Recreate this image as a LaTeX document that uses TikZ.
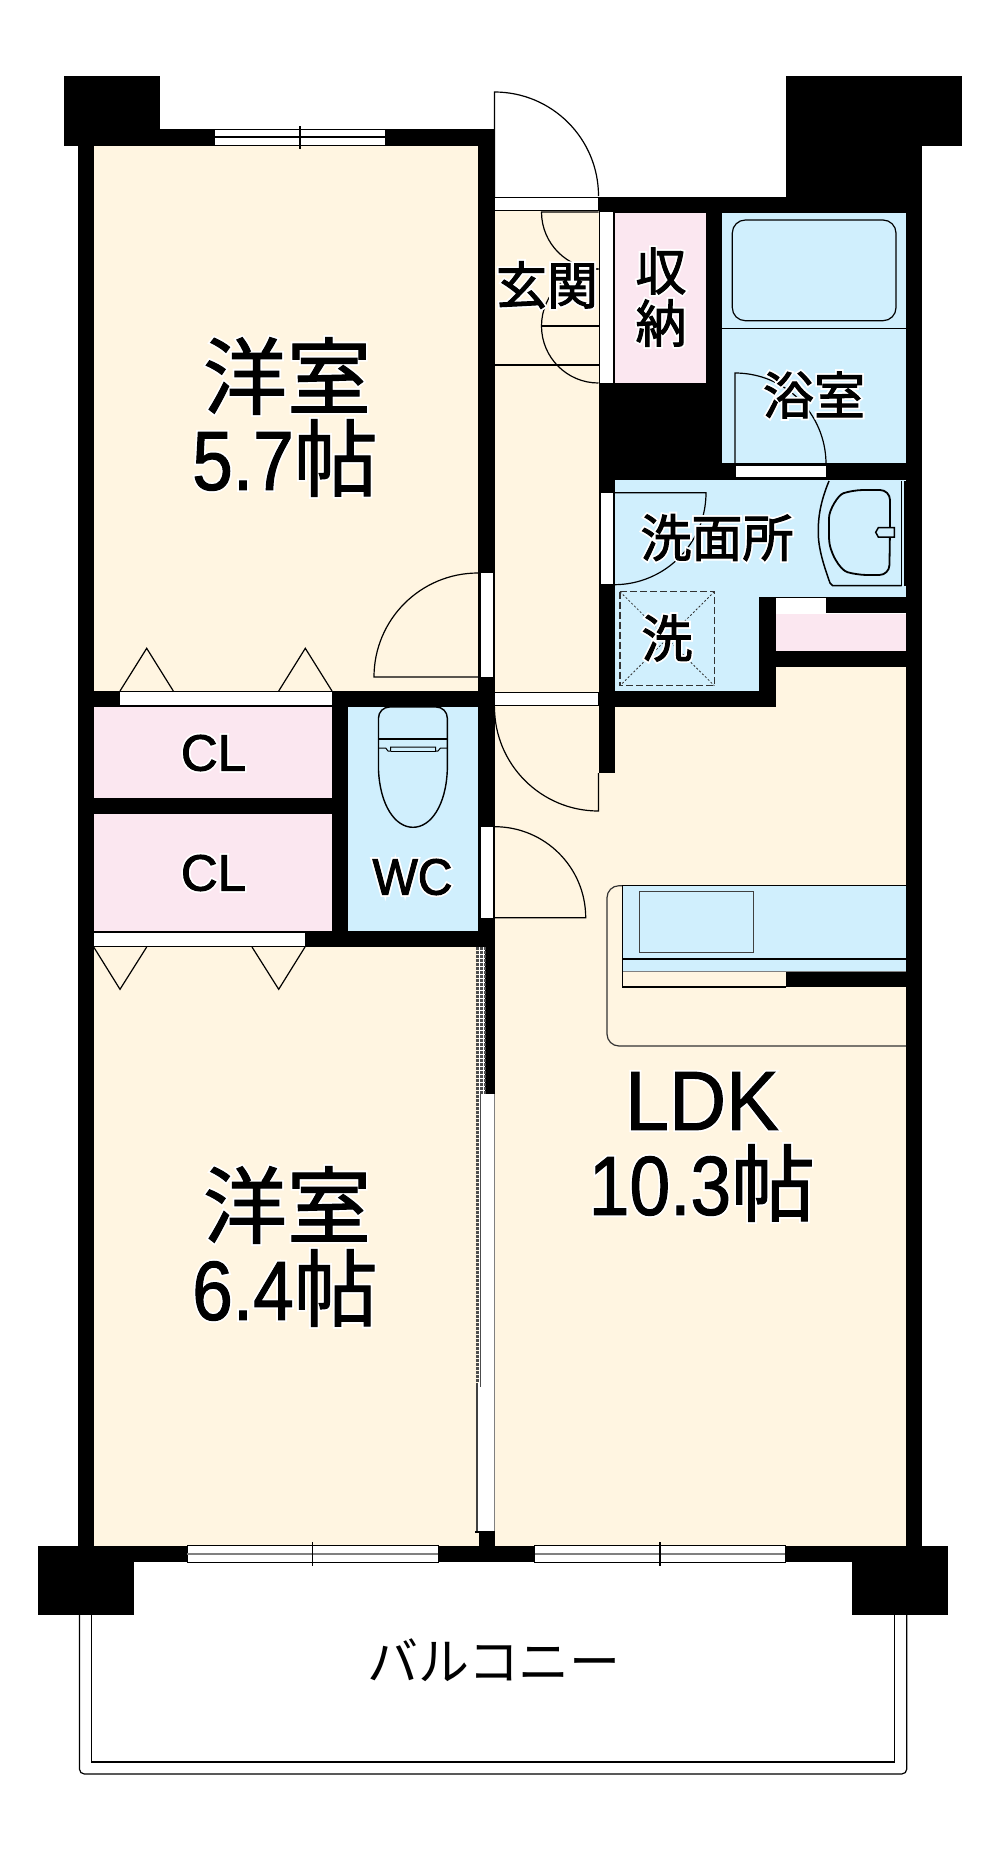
\documentclass[tikz,border=0pt]{standalone}
\usepackage{fontspec}
\setmainfont{Liberation Sans}
\newfontfamily\cjk{Noto Sans CJK JP}
\newfontfamily\numfont[FakeStretch=0.87]{Liberation Sans}
\newfontfamily\capfont[FakeStretch=0.94]{Liberation Sans}
\definecolor{cream}{HTML}{FFF5E1}
\definecolor{pinkroom}{HTML}{FBE7F0}
\definecolor{blueroom}{HTML}{D0EFFD}
\newcommand{\halo}[1]{\leavevmode
    \rlap{\special{pdf:code q 2 Tr 1 1 1 RG 1 1 1 rg 4.6 w}#1\special{pdf:code Q}}%
    \special{pdf:code q 2 Tr 0 0 0 RG 0 0 0 rg 1 w}#1\special{pdf:code Q}}
\newcommand{\bigtxt}{\fontsize{84}{84}\selectfont}
\newcommand{\midtxt}{\fontsize{51}{51}\selectfont}
\tikzset{
    wall/.style={fill=black},
    cream room/.style={fill=cream},
    pink room/.style={fill=pinkroom},
    blue room/.style={fill=blueroom},
    opening/.style={fill=white,draw=black,line width=0.8pt},
    thin line/.style={draw=black,line width=1.2pt},
    label/.style={inner sep=0pt,font=\cjk\midtxt},
    big label/.style={inner sep=0pt,font=\cjk\bigtxt}
}

\begin{document}
\begin{tikzpicture}[x=1pt,y=-1pt]
    \useasboundingbox (0,0) rectangle (1000,1852);

    % Place the rooms
    \fill[cream room] (93,145) rectangle (479,692);
    \fill[cream room] (93,946) rectangle (479,1547);
    \fill[cream room] (494,210) rectangle (600,707);
    \fill[cream room] (494,706) rectangle (907,1547);
    \fill[cream room] (775,665) rectangle (907,707);
    \fill[pink room] (614.3,212.3) rectangle (705.7,383.3);
    \fill[pink room] (775.7,613.7) rectangle (906,650.7);
    \fill[pink room] (93.7,706.7) rectangle (331.7,797.7);
    \fill[pink room] (93.7,813.7) rectangle (331.7,931);
    \fill[blue room] (722.3,213.3) rectangle (905.7,463.3);
    \fill[blue room] (615,480) rectangle (906,597);
    \fill[blue room] (615,597) rectangle (759.3,690.7);
    \fill[blue room] (347.7,706.7) rectangle (478.3,931);

    % Draw the walls
    \fill[wall] (77.7,129) rectangle (93.7,1550);
    \fill[wall] (64.3,76) rectangle (160,145.7);
    \fill[wall] (160,129) rectangle (494.5,145.7);
    \fill[wall] (478,129) rectangle (494.5,947);
    \fill[wall] (485,947) rectangle (494.5,1094);
    \fill[wall] (598.5,196.7) rectangle (786,213);
    \fill[wall] (786,76) rectangle (962,145.7);
    \fill[wall] (786,145.7) rectangle (922.3,213);
    \fill[wall] (905.7,145) rectangle (922.3,1550);
    \fill[wall] (598.5,197) rectangle (614.5,773.3);
    \fill[wall] (705.7,197) rectangle (722.3,480);
    \fill[wall] (599,383.3) rectangle (722.3,480);
    \fill[wall] (722,463.3) rectangle (906,480);
    \fill[wall] (759.3,597) rectangle (906,612.7);
    \fill[wall] (759.3,597) rectangle (775.7,706.7);
    \fill[wall] (599,690.7) rectangle (775.7,706.7);
    \fill[wall] (775.7,650.7) rectangle (906,666.7);
    \fill[wall] (77.7,691) rectangle (494.5,706.7);
    \fill[wall] (77.7,797.7) rectangle (331.7,813.7);
    \fill[wall] (331.7,691) rectangle (347.7,947);
    \fill[wall] (77.7,931) rectangle (494.5,947);
    \fill[wall] (786,971) rectangle (922,987);
    \fill[wall] (37.7,1546) rectangle (948,1562.3);
    \fill[wall] (37.7,1546) rectangle (133.8,1615);
    \fill[wall] (852.3,1546) rectangle (948,1615);
    \fill[wall] (478.7,1532) rectangle (494.5,1546);

    % Place the door openings
    \draw[opening] (494.5,197) rectangle (598.5,210.7);
    \draw[opening] (494.5,692.3) rectangle (598.5,705.7);
    \draw[opening] (735,465) rectangle (826,477.7);
    \fill[white] (600,212) rectangle (613.3,383);
    \fill[white] (601,492.7) rectangle (613.3,584);
    \fill[white] (480.7,573.3) rectangle (493,677.3);
    \fill[white] (480.7,826.7) rectangle (493,917.7);
    \fill[white] (120,692.3) rectangle (331.7,705.3);
    \fill[white] (93.7,932.7) rectangle (305,945.7);
    \fill[white] (775.7,598.3) rectangle (826,612.7);

    % Draw the door swings
    \draw[thin line] (494.5,197) -- (494.5,92) arc (-90:0:104);
    \draw[thin line] (598.5,212) -- (541.5,212) arc (180:90:57);
    \draw[thin line] (598.5,269) arc (-90:-270:57);
    \draw[thin line] (541.5,326) -- (598.5,326);
    \draw[thin line] (494.5,365) -- (598.5,365);
    \draw[thin line] (598.5,773) -- (598.5,811) arc (90:180:104);
    \draw[thin line] (478,677) -- (374,677) arc (180:270:104);
    \draw[thin line] (494,917.7) -- (585.7,917.7) arc (0:-90:91);
    \draw[thin line] (735,465) -- (735,373) arc (-90:0:91);
    \draw[thin line] (614,492.7) -- (706,492.7) arc (0:90:92);

    % Draw the closet folding doors
    \draw[thin line] (120,691) -- (146.7,648.3) -- (173.3,691);
    \draw[thin line] (278.7,691) -- (305.3,648.3) -- (332,691);
    \draw[thin line] (93.7,947) -- (120,989.3) -- (146.7,947);
    \draw[thin line] (252,947) -- (278.7,989.3) -- (305,947);

    % Draw the windows
    \draw[opening] (214,129) rectangle (385,145.5);
    \draw[thin line] (214,137) -- (385,137);
    \draw[thin line] (300,126) -- (300,149);
    \draw[opening] (187,1545.5) rectangle (438,1562);
    \draw[draw=gray,line width=2pt] (187,1554) -- (438,1554);
    \draw[thin line] (312.5,1542) -- (312.5,1565.7);
    \draw[opening] (534.7,1545.5) rectangle (785,1562);
    \draw[draw=gray,line width=2pt] (534.7,1554) -- (785,1554);
    \draw[thin line] (660,1542) -- (660,1565.7);

    % Draw the sliding door
    \fill[white] (481,1094) rectangle (494.5,1532);
    \fill[white] (478,1383) rectangle (494.5,1532);
    \draw[draw=black!70,line width=3pt,dash pattern=on 3pt off 1pt] (477.5,947) -- (477.5,1383);
    \draw[draw=black!70,line width=3pt,dash pattern=on 3pt off 1pt] (481.5,947) -- (481.5,1094);
    \draw[draw=black!70,line width=2pt,dash pattern=on 3pt off 1pt] (484.5,947) -- (484.5,1094);
    \draw[draw=black!70,line width=1.5pt] (480.5,1094) -- (480.5,1387);
    \draw[draw=black!75,line width=2pt] (477,1383) -- (477,1532);
    \draw[draw=gray,line width=1pt] (494.5,1094) -- (494.5,1532);
    \draw[thin line] (475,1532) -- (495,1532);

    % Draw the bath
    \draw[thin line] (722,328.3) -- (906,328.3);
    \draw[thin line,rounded corners=13pt] (732.3,220) rectangle (896,320.7);

    % Draw the wash basin
    \draw[line width=1.5pt] (829,481) .. controls (822,498) and (818,514) .. (818.3,531.7)
        .. controls (818,548) and (824,566) .. (830,583) -- (832.7,585.7) -- (901.7,585.7);
    \draw[thin line] (901.7,481) -- (901.7,585.7);
    \draw[thin line] (905,481) -- (905,585.7);
    \draw[line width=1.8pt,rounded corners=10pt] (890,528) -- (890,490) -- (853,490)
        .. controls (838,495) and (829,510) .. (829,528)
        .. controls (829,552) and (840,570) .. (857,575) -- (889.3,575) -- (890,530);
    \draw[line width=1.5pt,fill=blueroom] (894.3,527.7) -- (878.3,527.7) -- (875.7,532.3)
        -- (878.3,537) -- (894.3,537) -- cycle;

    % Draw the washing machine place
    \draw[draw=black!80,line width=1.2pt,dashed,dash pattern=on 7pt off 3pt] (620,591.7) rectangle (714.3,685.7);
    \draw[draw=black!80,line width=0.8pt,dash pattern=on 2pt off 2pt] (620,591.7) -- (714.3,685.7);
    \draw[draw=black!80,line width=0.8pt,dash pattern=on 2pt off 2pt] (714.3,591.7) -- (620,685.7);

    % Draw the toilet
    \draw[line width=1.4pt,rounded corners=11pt] (378.5,739) -- (378.5,707) -- (447.3,707) -- (447.3,739);
    \draw[line width=1.4pt] (378.5,739) -- (447.3,739);
    \draw[line width=1.4pt] (378.5,739) -- (378.5,770)
        .. controls (380,805) and (395,827.3) .. (413,827.3)
        .. controls (431,827.3) and (446,805) .. (447.3,770) -- (447.3,739);
    \draw[line width=1pt] (378.5,748) -- (385.7,748) -- (388,751) -- (390.7,751) -- (390.7,747)
        -- (435.7,747) -- (435.7,751) -- (438,751) -- (440.5,748) -- (447.3,748);
    \draw[line width=1pt] (390.7,751) -- (435.7,751);

    % Draw the kitchen
    \draw[draw=black!80,line width=1.2pt,rounded corners=12pt] (622.7,885.7) -- (607,885.7) -- (607,1046) -- (906,1046);
    \fill[blue room] (622.7,885.7) rectangle (906,971);
    \draw[line width=1.5pt] (622.7,971) -- (622.7,885.7) -- (906,885.7);
    \draw[thin line] (622.7,959) -- (906,959);
    \draw[draw=black!75,line width=1.5pt] (639.3,891.7) rectangle (753.7,952.3);
    \draw[draw=black!50,line width=1pt] (622.7,971) -- (906,971);
    \draw[line width=1.4pt] (622.7,971) -- (622.7,987) -- (786,987);

    % Draw the balcony rail
    \draw[thin line,rounded corners=5pt] (79.4,1615) -- (79.4,1774) -- (906.8,1774) -- (906.8,1615);
    \draw[thin line] (91.6,1615) -- (91.6,1762) -- (894.5,1762) -- (894.5,1615);

    % Place the labels
    \node[big label] (roomA) at (287,376) {\halo{洋室}};
    \node[big label] (roomAsize) at (285,458) {\halo{\numfont 5.7\cjk 帖}};
    \node[big label] (roomB) at (287,1205) {\halo{洋室}};
    \node[big label] (roomBsize) at (285,1288) {\halo{\numfont 6.4\cjk 帖}};
    \node[big label] (ldk) at (702,1101) {\halo{\capfont LDK}};
    \node[big label] (ldksize) at (702,1183) {\halo{\numfont 10.3\cjk 帖}};
    \node[label] (genkan) at (547,285) {\halo{玄関}};
    \node[label] (shuA) at (661,271) {\halo{収}};
    \node[label] (shuB) at (661,323) {\halo{納}};
    \node[label] (bath) at (814,395) {\halo{浴室}};
    \node[label] (sink) at (717,537.5) {\halo{洗面所}};
    \node[label] (washer) at (667,638) {\halo{洗}};
    \node[label] (clA) at (213.5,753) {\halo{\rmfamily CL}};
    \node[label] (clB) at (213.5,873) {\halo{\rmfamily CL}};
    \node[label] (wc) at (412.5,877) {\halo{\capfont WC}};
    \node[label] (balcony) at (494,1660) {バルコニー};

\end{tikzpicture}
\end{document}
